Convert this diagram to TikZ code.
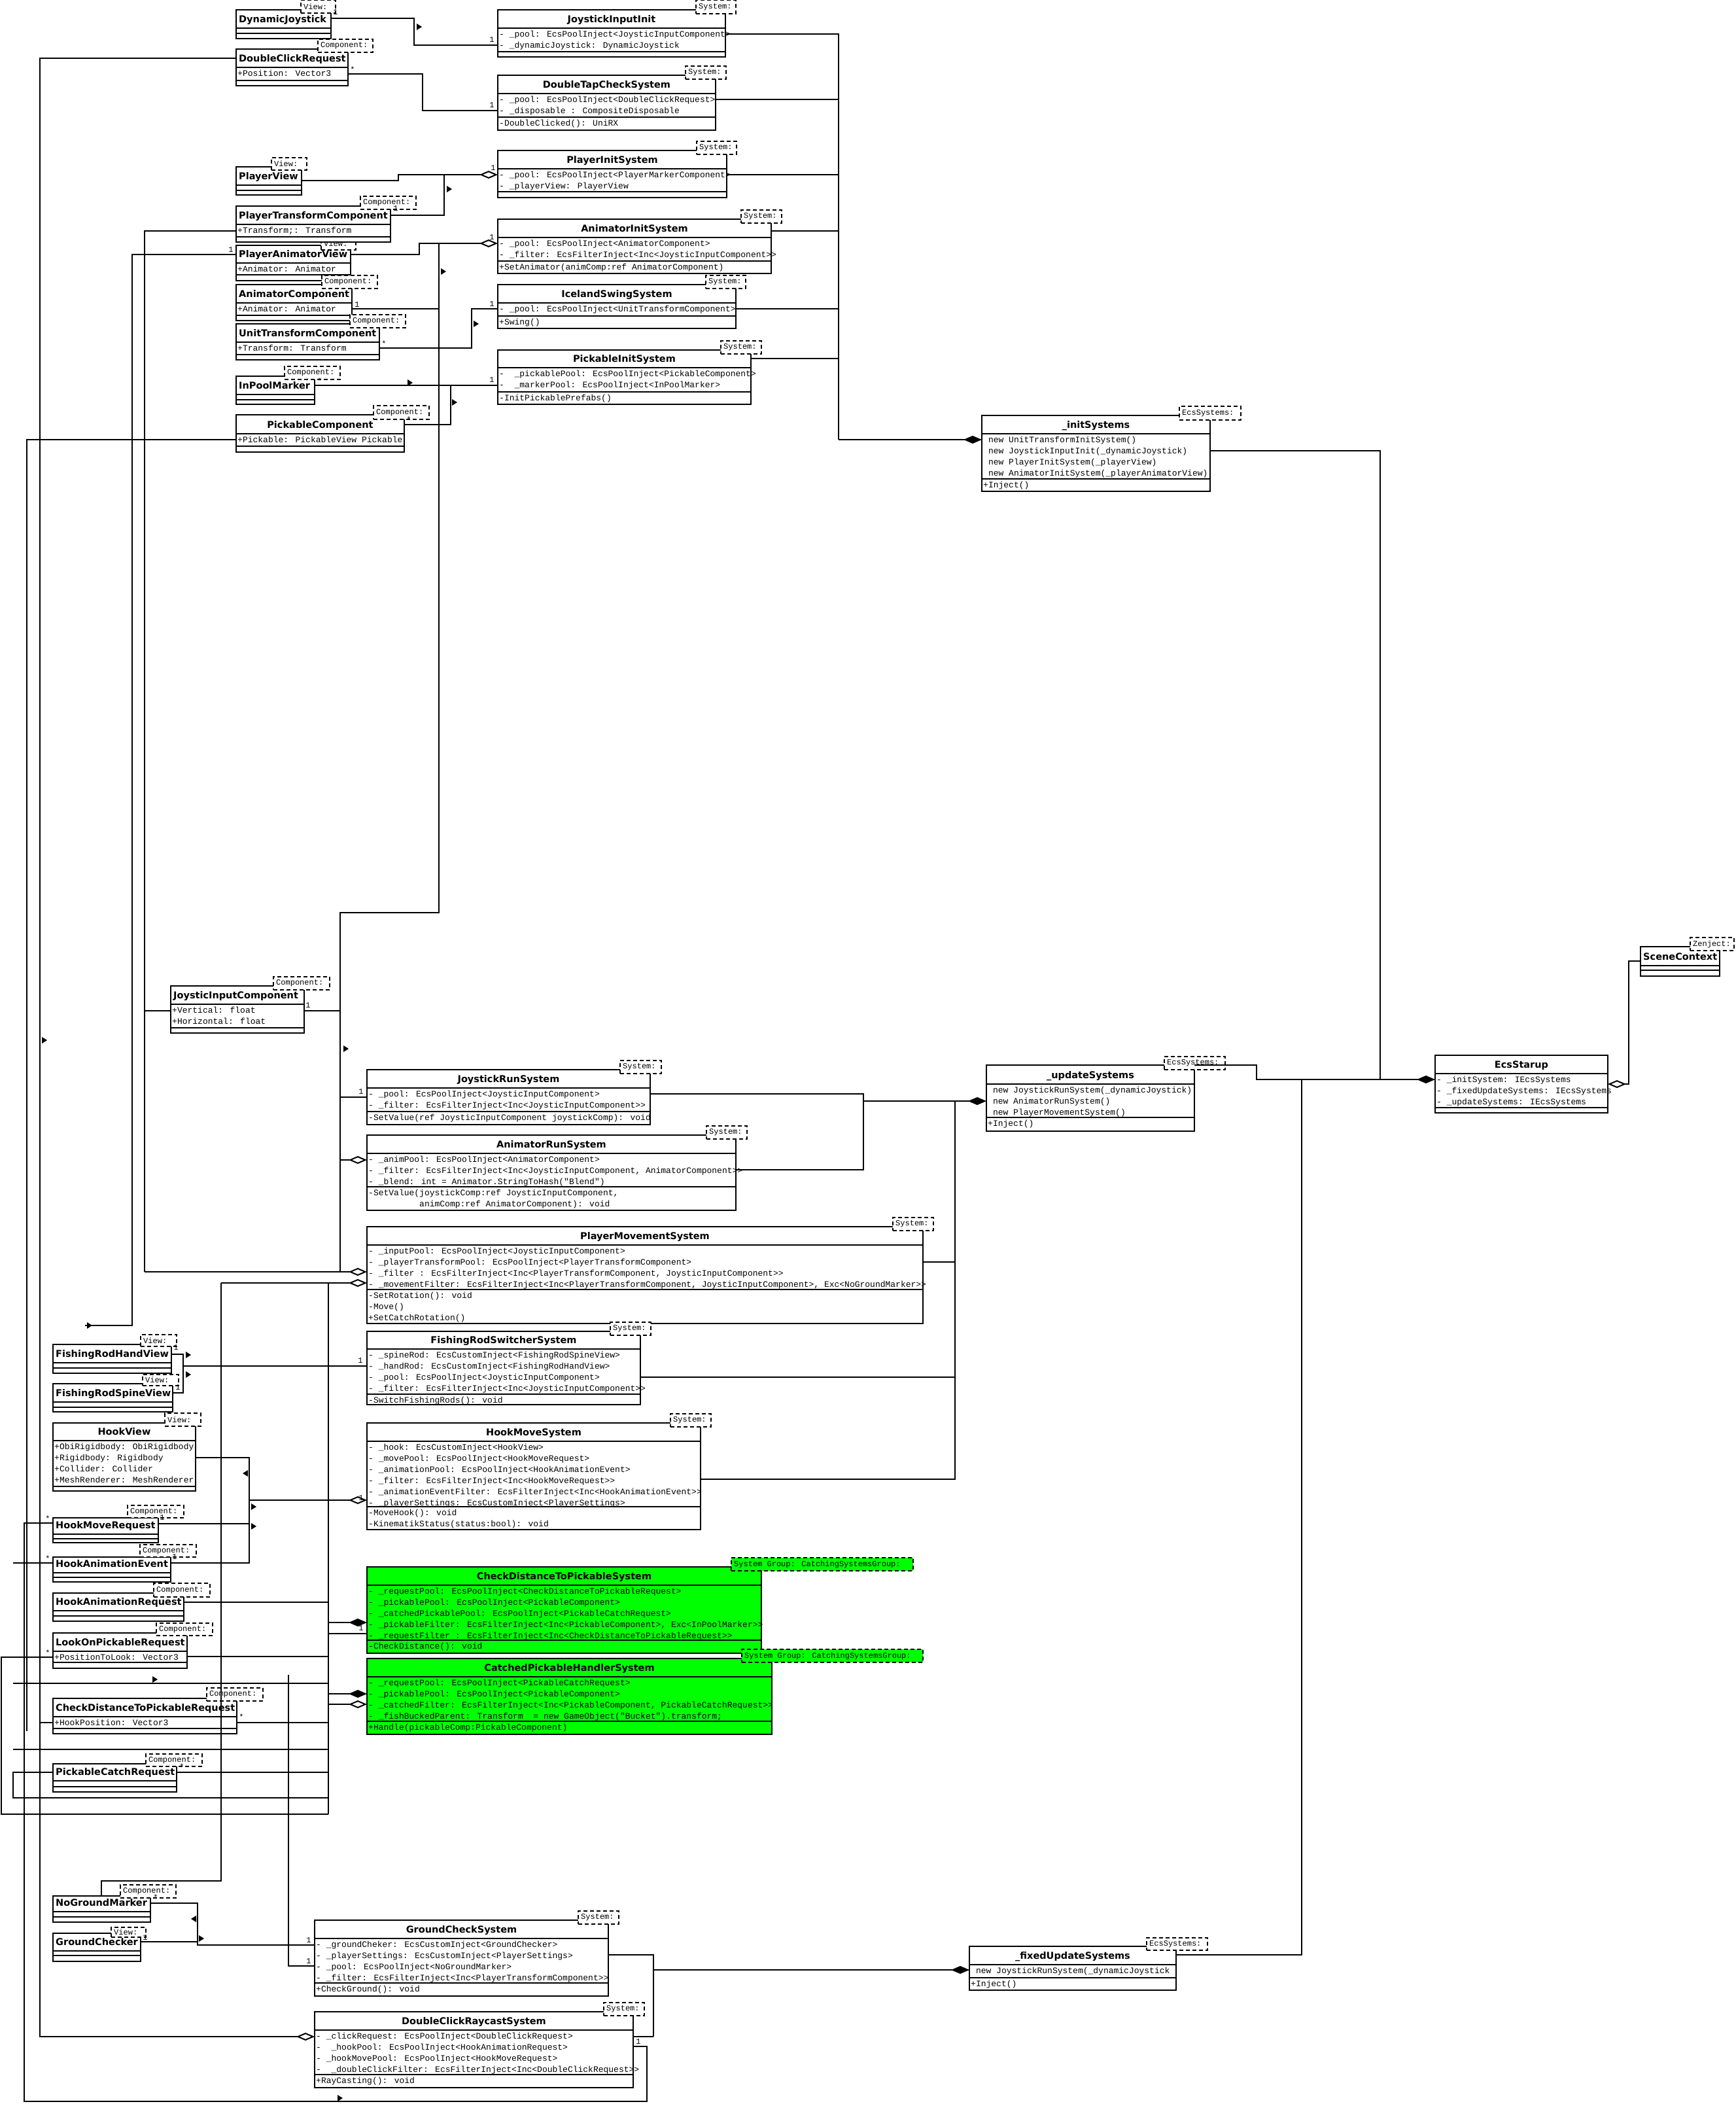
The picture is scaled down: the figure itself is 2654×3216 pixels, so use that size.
\documentclass[tikz,border=0pt]{standalone}
\usepackage{fontspec}
\setmainfont{DejaVu Sans}
\newfontfamily\membfont{Liberation Mono}
\usetikzlibrary{arrows.meta}
\definecolor{grpgreen}{RGB}{0,255,0}

\tikzset{
  clsbox/.style={draw, line width=2.2pt, inner sep=0pt, outer sep=0pt},
  clsrule/.style={line width=2.2pt},
  clstitle/.style={font=\fontsize{14.5}{17}\selectfont\bfseries, inner sep=0pt},
  clsmembers/.style={font=\membfont\fontsize{13}{17}\selectfont, align=left, inner sep=0pt, anchor=north west},
  stereobox/.style={draw, line width=2pt, dash pattern=on 6pt off 4pt, inner sep=0pt, outer sep=0pt, anchor=north west},
  stereotext/.style={font=\membfont\fontsize{12}{14}\selectfont, inner sep=0pt, anchor=west},
  wire/.style={line width=2pt},
  multlabel/.style={font=\membfont\fontsize{12}{12}\selectfont, inner sep=0pt, anchor=base},
  aggr/.style={-{Diamond[open, length=28pt, width=12pt, line width=2pt]}},
  comp/.style={-{Diamond[length=28pt, width=12pt]}},
}

% class box: [fill] name, x1, y1, x2, y(title bottom), y(attributes bottom), y2
\newcommand{\umlclass}[8][white]{%
  \node[clsbox, fill=#1, minimum width={(#5)-(#3)}, minimum height={(#8)-(#4)}, anchor=north west] (#2) at (#3,#4) {};
  \draw[clsrule] (#3,#6) -- (#5,#6) (#3,#7) -- (#5,#7);}
% centred title: name, x1, x2, y(title bottom), text
\newcommand{\umltitlec}[5]{\node[clstitle, anchor=base] (#1) at ({(#2+#3)/2},{#4-8.5}) {#5};}
% left title: name, x1, y(title bottom), text
\newcommand{\umltitlel}[4]{\node[clstitle, anchor=base west] (#1) at ({#2+4},{#3-8.5}) {#4};}
% member lines: name, x1, y(compartment top), text
\newcommand{\umlmembers}[4]{\node[clsmembers] (#1) at ({#2+2},{#3+1.5}) {\strut #4};}
% stereotype tag: [fill] name, x1, y1, x2, y2, text
\newcommand{\umlstereo}[7][white]{%
  \node[stereobox, fill=#1, minimum width={(#5)-(#3)}, minimum height={(#6)-(#4)}] (#2) at (#3,#4) {};
  \node[stereotext] (#2-l) at ({#3+4},{(#4+#6)/2}) {#7};}
% multiplicity: name, x, y(baseline), text
\newcommand{\umlmult}[4]{\node[multlabel] (#1) at (#2,#3) {#4};}
% small direction triangles
\newcommand{\umltriR}[2]{\fill (#1,#2) ++(-4,-5) -- ++(8,5) -- ++(-8,5) -- cycle;}
\newcommand{\umltriL}[2]{\fill (#1,#2) ++(4,-5) -- ++(-8,5) -- ++(8,5) -- cycle;}

\begin{document}
\begin{tikzpicture}[x=1pt,y=-1pt]
\fill[white] (0,0) rectangle (2654,3216);
\useasboundingbox (0,0) rectangle (2654,3216);

%================ classes =================
% --- views and components (top) ---
\umlclass{dj}{361}{15}{506}{43}{51}{59}
\umltitlel{dj-t}{361}{43}{DynamicJoystick}
\umlstereo{dj-s}{460}{0}{513}{20}{View:}

\umlclass{dcr}{361}{75}{532}{103}{123}{131}
\umltitlel{dcr-t}{361}{103}{DoubleClickRequest}
\umlmembers{dcr-a}{361}{103}{+Position: Vector3}
\umlstereo{dcr-s}{486}{60}{570}{80}{Component:}

\umlclass{pv}{361}{255}{461}{283}{291}{298}
\umltitlel{pv-t}{361}{283}{PlayerView}
\umlstereo{pv-s}{415}{241}{469}{260}{View:}

\umlclass{pav}{361}{375}{536}{402}{420}{429}
\umltitlel{pav-t}{361}{402}{PlayerAnimatorView}
\umlmembers{pav-a}{361}{402}{+Animator: Animator}
\umlstereo{pav-s}{491}{362}{544}{382}{View:}

\umlclass{ptc}{361}{315}{597}{343}{362}{370}
\umltitlel{ptc-t}{361}{343}{PlayerTransformComponent}
\umlmembers{ptc-a}{361}{343}{+Transform;: Transform}
\umlstereo{ptc-s}{551}{300}{636}{320}{Component:}

\umlclass{ac}{361}{435}{538}{463}{482}{490}
\umltitlel{ac-t}{361}{463}{AnimatorComponent}
\umlmembers{ac-a}{361}{463}{+Animator: Animator}
\umlstereo{ac-s}{492}{421}{577}{441}{Component:}

\umlclass{utc}{361}{495}{580}{523}{542}{550}
\umltitlel{utc-t}{361}{523}{UnitTransformComponent}
\umlmembers{utc-a}{361}{523}{+Transform: Transform}
\umlstereo{utc-s}{535}{481}{620}{501}{Component:}

\umlclass{ipm}{361}{575}{481}{603}{611}{618}
\umltitlel{ipm-t}{361}{603}{InPoolMarker}
\umlstereo{ipm-s}{435}{560}{520}{580}{Component:}

\umlclass{pc}{361}{634}{618}{663}{682}{691}
\umltitlec{pc-t}{361}{618}{663}{PickableComponent}
\umlmembers{pc-a}{361}{663}{+Pickable: PickableView Pickable}
\umlstereo{pc-s}{571}{620}{656}{641}{Component:}

% --- init systems ---
\umlclass{jii}{761}{15}{1109}{43}{79}{87}
\umltitlec{jii-t}{761}{1109}{43}{JoystickInputInit}
\umlmembers{jii-a}{761}{43}{- \_pool: EcsPoolInject<JoysticInputComponent>\\- \_dynamicJoystick: DynamicJoystick}
\umlstereo{jii-s}{1064}{0}{1125}{21}{System:}

\umlclass{dtcs}{761}{115}{1094}{143}{179}{199}
\umltitlec{dtcs-t}{761}{1094}{143}{DoubleTapCheckSystem}
\umlmembers{dtcs-a}{761}{143}{- \_pool: EcsPoolInject<DoubleClickRequest>\\- \_disposable : CompositeDisposable}
\umlmembers{dtcs-o}{761}{179}{-DoubleClicked(): UniRX}
\umlstereo{dtcs-s}{1048}{101}{1110}{121}{System:}

\umlclass{pis}{761}{230}{1111}{258}{293}{302}
\umltitlec{pis-t}{761}{1111}{258}{PlayerInitSystem}
\umlmembers{pis-a}{761}{258}{- \_pool: EcsPoolInject<PlayerMarkerComponent>\\- \_playerView: PlayerView}
\umlstereo{pis-s}{1065}{216}{1126}{236}{System:}

\umlclass{ais}{761}{335}{1179}{363}{399}{418}
\umltitlec{ais-t}{761}{1179}{363}{AnimatorInitSystem}
\umlmembers{ais-a}{761}{363}{- \_pool: EcsPoolInject<AnimatorComponent>\\- \_filter: EcsFilterInject<Inc<JoysticInputComponent>>}
\umlmembers{ais-o}{761}{399}{+SetAnimator(animComp:ref AnimatorComponent)}
\umlstereo{ais-s}{1133}{321}{1195}{341}{System:}

\umlclass{iss}{761}{435}{1125}{463}{483}{502}
\umltitlec{iss-t}{761}{1125}{463}{IcelandSwingSystem}
\umlmembers{iss-a}{761}{463}{- \_pool: EcsPoolInject<UnitTransformComponent>}
\umlmembers{iss-o}{761}{483}{+Swing()}
\umlstereo{iss-s}{1079}{421}{1140}{441}{System:}

\umlclass{pins}{761}{535}{1148}{562}{599}{618}
\umltitlec{pins-t}{761}{1148}{562}{PickableInitSystem}
\umlmembers{pins-a}{761}{562}{- \ \_pickablePool: EcsPoolInject<PickableComponent>\\- \ \_markerPool: EcsPoolInject<InPoolMarker>}
\umlmembers{pins-o}{761}{599}{-InitPickablePrefabs()}
\umlstereo{pins-s}{1102}{521}{1164}{541}{System:}

\umlclass{inits}{1501}{635}{1850}{663}{732}{751}
\umltitlec{inits-t}{1501}{1850}{663}{\_initSystems}
\umlmembers{inits-a}{1501}{663}{\ new UnitTransformInitSystem()\\\ new JoystickInputInit(\_dynamicJoystick)\\\ new PlayerInitSystem(\_playerView)\\\ new AnimatorInitSystem(\_playerAnimatorView)}
\umlmembers{inits-o}{1501}{732}{+Inject()}
\umlstereo{inits-s}{1803}{621}{1897}{642}{EcsSystems:}

% --- run systems ---
\umlclass{jic}{261}{1507}{465}{1535}{1571}{1579}
\umltitlel{jic-t}{261}{1535}{JoysticInputComponent}
\umlmembers{jic-a}{261}{1535}{+Vertical: float\\+Horizontal: float}
\umlstereo{jic-s}{418}{1493}{504}{1513}{Component:}

\umlclass{jrs}{561}{1635}{994}{1663}{1699}{1719}
\umltitlec{jrs-t}{561}{994}{1663}{JoystickRunSystem}
\umlmembers{jrs-a}{561}{1663}{- \_pool: EcsPoolInject<JoysticInputComponent>\\- \_filter: EcsFilterInject<Inc<JoysticInputComponent>>}
\umlmembers{jrs-o}{561}{1699}{-SetValue(ref JoysticInputComponent joystickComp): void}
\umlstereo{jrs-s}{948}{1621}{1011}{1641}{System:}

\umlclass{ars}{561}{1735}{1125}{1763}{1814}{1850}
\umltitlec{ars-t}{561}{1125}{1763}{AnimatorRunSystem}
\umlmembers{ars-a}{561}{1763}{- \_animPool: EcsPoolInject<AnimatorComponent>\\- \_filter: EcsFilterInject<Inc<JoysticInputComponent, AnimatorComponent>>\\- \_blend: int = Animator.StringToHash("Blend")}
\umlmembers{ars-o}{561}{1814}{-SetValue(joystickComp:ref JoysticInputComponent,\\\hspace*{78pt}animComp:ref AnimatorComponent): void}
\umlstereo{ars-s}{1080}{1721}{1142}{1741}{System:}

\umlclass{pms}{561}{1875}{1411}{1903}{1971}{2023}
\umltitlec{pms-t}{561}{1411}{1903}{PlayerMovementSystem}
\umlmembers{pms-a}{561}{1903}{- \_inputPool: EcsPoolInject<JoysticInputComponent>\\- \_playerTransformPool: EcsPoolInject<PlayerTransformComponent>\\- \_filter : EcsFilterInject<Inc<PlayerTransformComponent, JoysticInputComponent>>\\- \_movementFilter: EcsFilterInject<Inc<PlayerTransformComponent, JoysticInputComponent>, Exc<NoGroundMarker>>}
\umlmembers{pms-o}{561}{1971}{-SetRotation(): void\\-Move()\\+SetCatchRotation()}
\umlstereo{pms-s}{1365}{1861}{1427}{1881}{System:}

\umlclass{frss}{561}{2035}{979}{2062}{2131}{2147}
\umltitlec{frss-t}{561}{979}{2062}{FishingRodSwitcherSystem}
\umlmembers{frss-a}{561}{2062}{- \_spineRod: EcsCustomInject<FishingRodSpineView>\\- \_handRod: EcsCustomInject<FishingRodHandView>\\- \_pool: EcsPoolInject<JoysticInputComponent>\\- \_filter: EcsFilterInject<Inc<JoysticInputComponent>>}
\umlmembers{frss-o}{561}{2131}{-SwitchFishingRods(): void}
\umlstereo{frss-s}{933}{2021}{995}{2041}{System:}

\umlclass{hms}{561}{2175}{1071}{2203}{2303}{2338}
\umltitlec{hms-t}{561}{1071}{2203}{HookMoveSystem}
\umlmembers{hms-a}{561}{2203}{- \_hook: EcsCustomInject<HookView>\\- \_movePool: EcsPoolInject<HookMoveRequest>\\- \_animationPool: EcsPoolInject<HookAnimationEvent>\\- \_filter: EcsFilterInject<Inc<HookMoveRequest>>\\- \_animationEventFilter: EcsFilterInject<Inc<HookAnimationEvent>>\\- \_playerSettings: EcsCustomInject<PlayerSettings>}
\umlmembers{hms-o}{561}{2303}{-MoveHook(): void\\-KinematikStatus(status:bool): void}
\umlstereo{hms-s}{1025}{2161}{1087}{2181}{System:}

\umlclass[grpgreen]{cdtps}{561}{2395}{1164}{2423}{2507}{2527}
\umltitlec{cdtps-t}{561}{1164}{2423}{CheckDistanceToPickableSystem}
\umlmembers{cdtps-a}{561}{2423}{- \_requestPool: EcsPoolInject<CheckDistanceToPickableRequest>\\- \_pickablePool: EcsPoolInject<PickableComponent>\\- \_catchedPickablePool: EcsPoolInject<PickableCatchRequest>\\- \_pickableFilter: EcsFilterInject<Inc<PickableComponent>, Exc<InPoolMarker>>\\- \_requestFilter : EcsFilterInject<Inc<CheckDistanceToPickableRequest>>}
\umlmembers{cdtps-o}{561}{2507}{-CheckDistance(): void}
\umlstereo[grpgreen]{cdtps-s}{1118}{2381}{1396}{2401}{System Group: CatchingSystemsGroup:}

\umlclass[grpgreen]{cphs}{561}{2535}{1180}{2563}{2631}{2651}
\umltitlec{cphs-t}{561}{1180}{2563}{CatchedPickableHandlerSystem}
\umlmembers{cphs-a}{561}{2563}{- \_requestPool: EcsPoolInject<PickableCatchRequest>\\- \_pickablePool: EcsPoolInject<PickableComponent>\\- \_catchedFilter: EcsFilterInject<Inc<PickableComponent, PickableCatchRequest>>\\- \_fishBuckedParent: Transform \ = new GameObject("Bucket").transform;}
\umlmembers{cphs-o}{561}{2631}{+Handle(pickableComp:PickableComponent)}
\umlstereo[grpgreen]{cphs-s}{1134}{2521}{1411}{2541}{System Group: CatchingSystemsGroup:}

% --- views and requests (bottom left) ---
\umlclass{frhv}{81}{2055}{262}{2083}{2091}{2099}
\umltitlel{frhv-t}{81}{2083}{FishingRodHandView}
\umlstereo{frhv-s}{215}{2040}{270}{2058}{View:}

\umlclass{frsv}{81}{2115}{264}{2143}{2151}{2158}
\umltitlel{frsv-t}{81}{2143}{FishingRodSpineView}
\umlstereo{frsv-s}{218}{2101}{273}{2118}{View:}

\umlclass{hv}{81}{2175}{299}{2202}{2272}{2279}
\umltitlec{hv-t}{81}{299}{2202}{HookView}
\umlmembers{hv-a}{81}{2202}{+ObiRigidbody: ObiRigidbody\\+Rigidbody: Rigidbody\\+Collider: Collider\\+MeshRenderer: MeshRenderer}
\umlstereo{hv-s}{252}{2160}{307}{2180}{View:}

\umlclass{hmr}{81}{2320}{242}{2345}{2352}{2358}
\umltitlel{hmr-t}{81}{2345}{HookMoveRequest}
\umlstereo{hmr-s}{195}{2301}{281}{2320}{Component:}

\umlclass{hae}{81}{2380}{261}{2404}{2411}{2418}
\umltitlel{hae-t}{81}{2404}{HookAnimationEvent}
\umlstereo{hae-s}{214}{2361}{300}{2380}{Component:}

\umlclass{har}{81}{2435}{281}{2462}{2470}{2478}
\umltitlel{har-t}{81}{2462}{HookAnimationRequest}
\umlstereo{har-s}{235}{2420}{321}{2441}{Component:}

\umlclass{lopr}{81}{2496}{286}{2524}{2541}{2550}
\umltitlel{lopr-t}{81}{2524}{LookOnPickableRequest}
\umlmembers{lopr-a}{81}{2524}{+PositionToLook: Vector3}
\umlstereo{lopr-s}{239}{2481}{325}{2500}{Component:}

\umlclass{cdtpr}{81}{2596}{362}{2624}{2642}{2650}
\umltitlel{cdtpr-t}{81}{2624}{CheckDistanceToPickableRequest}
\umlmembers{cdtpr-a}{81}{2624}{+HookPosition: Vector3}
\umlstereo{cdtpr-s}{316}{2580}{402}{2600}{Component:}

\umlclass{pcr}{81}{2696}{270}{2722}{2731}{2739}
\umltitlel{pcr-t}{81}{2722}{PickableCatchRequest}
\umlstereo{pcr-s}{223}{2681}{309}{2700}{Component:}

\umlclass{ngm}{81}{2898}{230}{2922}{2930}{2938}
\umltitlel{ngm-t}{81}{2922}{NoGroundMarker}
\umlstereo{ngm-s}{184}{2881}{269}{2901}{Component:}

\umlclass{gc}{81}{2955}{215}{2982}{2989}{2998}
\umltitlel{gc-t}{81}{2982}{GroundChecker}
\umlstereo{gc-s}{170}{2946}{223}{2961}{View:}

\umlclass{gcs}{481}{2935}{930}{2963}{3031}{3051}
\umltitlec{gcs-t}{481}{930}{2963}{GroundCheckSystem}
\umlmembers{gcs-a}{481}{2963}{- \_groundCheker: EcsCustomInject<GroundChecker>\\- \_playerSettings: EcsCustomInject<PlayerSettings>\\- \_pool: EcsPoolInject<NoGroundMarker>\\- \_filter: EcsFilterInject<Inc<PlayerTransformComponent>>}
\umlmembers{gcs-o}{481}{3031}{+CheckGround(): void}
\umlstereo{gcs-s}{884}{2921}{946}{2941}{System:}

\umlclass{dcrs}{481}{3075}{968}{3103}{3171}{3191}
\umltitlec{dcrs-t}{481}{968}{3103}{DoubleClickRaycastSystem}
\umlmembers{dcrs-a}{481}{3103}{- \_clickRequest: EcsPoolInject<DoubleClickRequest>\\- \ \_hookPool: EcsPoolInject<HookAnimationRequest>\\- \_hookMovePool: EcsPoolInject<HookMoveRequest>\\- \ \_doubleClickFilter: EcsFilterInject<Inc<DoubleClickRequest>>}
\umlmembers{dcrs-o}{481}{3171}{+RayCasting(): void}
\umlstereo{dcrs-s}{923}{3061}{985}{3081}{System:}

% --- system groups and startup ---
\umlclass{ups}{1508}{1628}{1826}{1657}{1708}{1729}
\umltitlec{ups-t}{1508}{1826}{1657}{\_updateSystems}
\umlmembers{ups-a}{1508}{1657}{\ new JoystickRunSystem(\_dynamicJoystick)\\\ new AnimatorRunSystem()\\\ new PlayerMovementSystem()}
\umlmembers{ups-o}{1508}{1708}{+Inject()}
\umlstereo{ups-s}{1780}{1615}{1873}{1635}{EcsSystems:}

\umlclass{fus}{1482}{2975}{1798}{3003}{3023}{3042}
\umltitlec{fus-t}{1482}{1798}{3003}{\_fixedUpdateSystems}
\umlmembers{fus-a}{1482}{3003}{\ new JoystickRunSystem(\_dynamicJoystick}
\umlmembers{fus-o}{1482}{3023}{+Inject()}
\umlstereo{fus-s}{1753}{2962}{1846}{2981}{EcsSystems:}

\umlclass{ecs}{2194}{1613}{2458}{1641}{1693}{1701}
\umltitlec{ecs-t}{2194}{2458}{1641}{EcsStarup}
\umlmembers{ecs-a}{2194}{1641}{- \_initSystem: IEcsSystems\\- \_fixedUpdateSystems: IEcsSystems\\- \_updateSystems: IEcsSystems}

\umlclass{sc}{2508}{1447}{2629}{1476}{1483}{1492}
\umltitlel{sc-t}{2508}{1476}{SceneContext}
\umlstereo{sc-s}{2584}{1433}{2651}{1453}{Zenject:}

%================ connectors =================
% init systems wiring
\draw[wire] (dj.east |- 0,28) -- (633,28) -- (633,69) -- (jii.west |- 0,69);
\draw[wire] (dcr.east |- 0,113) -- (646,113) -- (646,169) -- (dtcs.west |- 0,169);
\draw[wire, aggr] (pv.east |- 0,276) -- (609,276) -- (609,267) -- (pis.west |- 0,267);
\draw[wire] (ptc.east |- 0,329) -- (679,329) -- (679,267);
\draw[wire, aggr] (pav.east |- 0,389) -- (641,389) -- (641,372) -- (ais.west |- 0,372);
\draw[wire] (ac.east |- 0,472) -- (671,472);
\draw[wire] (671,372) -- (671,1395) -- (520,1395) -- (520,1944);
\draw[wire] (utc.east |- 0,532) -- (721,532) -- (721,472) -- (iss.west |- 0,472);
\draw[wire] (ipm.east |- 0,589) -- (pins.west |- 0,589);
\draw[wire] (pc.east |- 0,649) -- (689,649) -- (689,589);

\draw[wire] (jii.east |- 0,52) -- (1282,52) -- (1282,672);
\draw[wire] (dtcs.east |- 0,152) -- (1282,152);
\draw[wire] (pis.east |- 0,267) -- (1282,267);
\draw[wire] (ais.east |- 0,353) -- (1282,353);
\draw[wire] (iss.east |- 0,472) -- (1282,472);
\draw[wire] (pins.east |- 0,548) -- (1282,548);
\draw[wire, comp] (1282,672) -- (inits.west |- 0,672);

% startup wiring
\draw[wire, comp] (inits.east |- 0,689) -- (2110,689) -- (2110,1650) -- (ecs.west |- 0,1650);
\draw[wire] (ups.north east) -- (1921,1628) -- (1921,1650) -- (2110,1650);
\draw[wire] (fus.east |- 0,2988) -- (1990,2988) -- (1990,1650);
\draw[wire, aggr] (sc.west |- 0,1469) -- (2490,1469) -- (2490,1657) -- (ecs.east |- 0,1657);

% update systems wiring
\draw[wire] (jic.east |- 0,1545) -- (520,1545);
\draw[wire] (520,1677) -- (jrs.west |- 0,1677);
\draw[wire, aggr] (520,1773) -- (ars.west |- 0,1773);
\draw[wire] (jrs.east |- 0,1672) -- (1320,1672) -- (1320,1788) -- (ars.east |- 0,1788);
\draw[wire, comp] (1320,1683) -- (ups.west |- 0,1683);
\draw[wire] (1460,1683) -- (1460,2261) -- (hms.east |- 0,2261);
\draw[wire] (pms.east |- 0,1929) -- (1460,1929);
\draw[wire] (frss.east |- 0,2105) -- (1460,2105);

\draw[wire] (ptc.west |- 0,353) -- (221,353) -- (221,1944);
\draw[wire, aggr] (221,1944) -- (pms.west |- 0,1944);
\draw[wire, aggr] (338,1961) -- (pms.west |- 0,1961);
\draw[wire] (jic.west |- 0,1545) -- (221,1545);
\draw[wire] (pav.west |- 0,389) -- (202,389) -- (202,2026) -- (130,2026);

% fishing rod and hook wiring
\draw[wire] (frhv.east |- 0,2070) -- (280,2070) -- (280,2129) -- (frsv.east |- 0,2129);
\draw[wire] (280,2088) -- (frss.west |- 0,2088);
\draw[wire] (hv.east |- 0,2228) -- (381,2228) -- (381,2389) -- (hae.east |- 0,2389);
\draw[wire] (hmr.east |- 0,2329) -- (381,2329);
\draw[wire, aggr] (381,2293) -- (hms.west |- 0,2293);

% ground check wiring
\draw[wire] (ngm.east |- 0,2909) -- (302,2909) -- (302,2973) -- (gcs.west |- 0,2973);
\draw[wire] (gc.east |- 0,2968) -- (302,2968);
\draw[wire] (ngm.north -| 155,0) -- (155,2875) -- (338,2875) -- (338,1961);
\draw[wire] (441,2560) -- (441,3005) -- (gcs.west |- 0,3005);

% raycast and fixed update wiring
\draw[wire, aggr] (dcr.west |- 0,89) -- (61,89) -- (61,3113) -- (dcrs.west |- 0,3113);
\draw[wire] (dcrs.east |- 0,3113) -- (999,3113);
\draw[wire] (gcs.east |- 0,2988) -- (999,2988) -- (999,3113);
\draw[wire, comp] (999,3011) -- (fus.west |- 0,3011);
\draw[wire] (dcrs.east |- 0,3128) -- (989,3128) -- (989,3212) -- (37,3212) -- (37,2328) -- (hmr.west |- 0,2328);

% catching systems wiring
\draw[wire] (pc.west |- 0,672) -- (41,672) -- (41,2646);
\draw[wire] (hae.west |- 0,2389) -- (20,2389);
\draw[wire] (502,1961) -- (502,2773);
\draw[wire] (lopr.west |- 0,2533) -- (2,2533) -- (2,2773) -- (502,2773);
\draw[wire, comp] (502,2480) -- (cdtps.west |- 0,2480);
\draw[wire] (502,2497) -- (cdtps.west |- 0,2497);
\draw[wire] (20,2573) -- (502,2573);
\draw[wire] (cdtpr.west |- 0,2633) -- (62,2633);
\draw[wire] (cdtpr.east |- 0,2633) -- (502,2633);
\draw[wire] (20,2674) -- (502,2674);
\draw[wire] (pcr.west |- 0,2709) -- (20,2709) -- (20,2748) -- (502,2748);
\draw[wire] (pcr.east |- 0,2709) -- (502,2709);
\draw[wire, comp] (502,2589) -- (cphs.west |- 0,2589);
\draw[wire, aggr] (502,2605) -- (cphs.west |- 0,2605);
\draw[wire] (har.east |- 0,2449) -- (502,2449);
\draw[wire] (lopr.east |- 0,2532) -- (502,2532);

%================ multiplicities =================
\umlmult{m01}{513}{22}{1}
\umlmult{m02}{752}{64}{1}
\umlmult{m03}{539}{110}{*}
\umlmult{m04}{752}{164}{1}
\umlmult{m05}{754}{260}{1}
\umlmult{m06}{605}{322}{1}
\umlmult{m07}{353}{385}{1}
\umlmult{m08}{752}{366}{1}
\umlmult{m09}{546}{469}{1}
\umlmult{m10}{587}{529}{*}
\umlmult{m11}{752}{468}{1}
\umlmult{m12}{489}{586}{*}
\umlmult{m13}{752}{584}{1}
\umlmult{m14}{625}{645}{*}
\umlmult{m15}{471}{1540}{1}
\umlmult{m16}{552}{1672}{1}
\umlmult{m17}{551}{2083}{1}
\umlmult{m18}{269}{2063}{1}
\umlmult{m19}{272}{2124}{1}
\umlmult{m20}{552}{2293}{1}
\umlmult{m21}{248}{2323}{1}
\umlmult{m22}{73}{2325}{*}
\umlmult{m23}{267}{2383}{1}
\umlmult{m24}{73}{2386}{*}
\umlmult{m25}{73}{2530}{*}
\umlmult{m26}{369}{2628}{*}
\umlmult{m27}{278}{2704}{*}
\umlmult{m28}{552}{2492}{1}
\umlmult{m29}{238}{2904}{*}
\umlmult{m30}{222}{2965}{1}
\umlmult{m31}{472}{2969}{1}
\umlmult{m32}{472}{3001}{1}
\umlmult{m33}{976}{3124}{1}

%================ direction marks =================
\umltriR{641}{41}
\umltriR{687}{289}
\umltriR{678}{415}
\umltriR{728}{495}
\umltriR{627}{585}
\umltriR{695}{615}
\umltriR{68}{1590}
\umltriR{529}{1603}
\umltriR{137}{2026}
\umltriR{288}{2071}
\umltriR{288}{2101}
\umltriL{375}{2252}
\umltriR{388}{2303}
\umltriR{388}{2333}
\umltriR{237}{2567}
\umltriL{296}{2933}
\umltriR{308}{2963}
\umltriR{520}{3207}
\end{tikzpicture}
\end{document}
